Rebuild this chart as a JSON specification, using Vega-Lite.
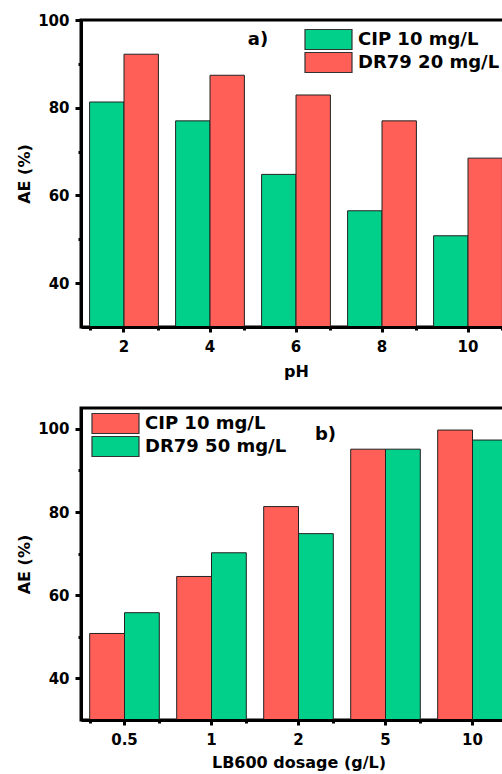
{
  "$schema": "https://vega.github.io/schema/vega-lite/v6.json",
  "background": "white",
  "padding": {"left": 15, "top": 11, "right": 0, "bottom": 0},
  "spacing": 25,
  "datasets": {
    "ph": [
      {"pH": "2", "series": "CIP 10 mg/L", "AE": 81.3},
      {"pH": "2", "series": "DR79 20 mg/L", "AE": 92.2},
      {"pH": "4", "series": "CIP 10 mg/L", "AE": 77.0},
      {"pH": "4", "series": "DR79 20 mg/L", "AE": 87.4},
      {"pH": "6", "series": "CIP 10 mg/L", "AE": 64.8},
      {"pH": "6", "series": "DR79 20 mg/L", "AE": 82.9},
      {"pH": "8", "series": "CIP 10 mg/L", "AE": 56.5},
      {"pH": "8", "series": "DR79 20 mg/L", "AE": 77.0},
      {"pH": "10", "series": "CIP 10 mg/L", "AE": 50.8},
      {"pH": "10", "series": "DR79 20 mg/L", "AE": 68.5}
    ],
    "dose": [
      {"dose": "0.5", "series": "CIP 10 mg/L", "AE": 50.8},
      {"dose": "0.5", "series": "DR79 50 mg/L", "AE": 55.8},
      {"dose": "1", "series": "CIP 10 mg/L", "AE": 64.5},
      {"dose": "1", "series": "DR79 50 mg/L", "AE": 70.2},
      {"dose": "2", "series": "CIP 10 mg/L", "AE": 81.3},
      {"dose": "2", "series": "DR79 50 mg/L", "AE": 74.8},
      {"dose": "5", "series": "CIP 10 mg/L", "AE": 95.1},
      {"dose": "5", "series": "DR79 50 mg/L", "AE": 95.1},
      {"dose": "10", "series": "CIP 10 mg/L", "AE": 99.7},
      {"dose": "10", "series": "DR79 50 mg/L", "AE": 97.3}
    ]
  },
  "config": {
    "font": "DejaVu Sans",
    "view": {"stroke": "black", "strokeWidth": 3},
    "axis": {
      "grid": false,
      "labelFont": "DejaVu Sans", "labelFontWeight": "bold", "labelFontSize": 15, "labelColor": "black",
      "titleFont": "DejaVu Sans", "titleFontWeight": "bold", "titleFontSize": 16, "titleColor": "black",
      "domainColor": "black", "domainWidth": 3, "tickColor": "black", "tickWidth": 3
    },
    "legend": {
      "orient": "none", "title": null, "padding": 0,
      "symbolType": "M-1,-0.43H1V0.43H-1Z", "symbolSize": 2209,
      "clipHeight": 21, "rowPadding": 2,
      "labelFont": "DejaVu Sans", "labelFontWeight": "bold", "labelFontSize": 18, "labelColor": "black",
      "labelOffset": 5, "symbolStrokeColor": "#333", "symbolStrokeWidth": 1.2, "symbolOpacity": 1
    }
  },
  "resolve": {"scale": {"x": "independent", "y": "independent", "color": "independent", "xOffset": "independent"}},
  "vconcat": [
    {
      "width": 430, "height": 307,
      "resolve": {"axis": {"x": "independent"}},
      "layer": [
        {
          "data": {"name": "ph"},
          "mark": {"type": "bar", "stroke": "#222", "strokeWidth": 1, "clip": true},
          "encoding": {
            "x": {"field": "pH", "type": "ordinal", "sort": ["2", "4", "6", "8", "10"],
              "scale": {"paddingInner": 0.2, "paddingOuter": 0.1},
              "axis": {"orient": "bottom", "zindex": 2, "title": "pH", "labelAngle": 0, "tickSize": 5, "labelPadding": 7, "titlePadding": 9}},
            "xOffset": {"field": "series", "sort": ["CIP 10 mg/L", "DR79 20 mg/L"], "scale": {"paddingInner": 0, "paddingOuter": 0}},
            "y": {"field": "AE", "type": "quantitative",
              "scale": {"domain": [30, 100], "nice": false, "zero": false},
              "axis": {"zindex": 2, "title": "AE (%)", "values": [40, 50, 60, 70, 80, 90, 100],
                "labelExpr": "datum.value % 20 === 0 ? datum.label : ''",
                "tickSize": {"condition": {"test": "datum.value % 20 !== 0", "value": 3}, "value": 6},
                "labelPadding": 6, "titlePadding": 5}},
            "color": {"field": "series", "type": "nominal",
              "scale": {"domain": ["CIP 10 mg/L", "DR79 20 mg/L"], "range": ["#00D08A", "#FF5F57"]},
              "legend": {"legendX": 223, "legendY": 9}}
          }
        },
        {
          "data": {"values": [{"pH": "6", "AE": 95.5, "t": "a)"}]},
          "mark": {"type": "text", "font": "DejaVu Sans", "fontWeight": "bold", "fontSize": 18, "color": "black", "align": "center", "baseline": "middle", "dx": -38},
          "encoding": {
            "x": {"field": "pH", "type": "ordinal", "sort": ["2", "4", "6", "8", "10"],
              "axis": {"orient": "bottom", "zindex": 2, "tickBand": "extent", "labels": false, "domain": false, "title": null, "tickSize": 3}},
            "y": {"field": "AE", "type": "quantitative"},
            "text": {"field": "t"}
          }
        }
      ]
    },
    {
      "width": 435, "height": 312,
      "resolve": {"axis": {"x": "independent"}},
      "layer": [
        {
          "data": {"name": "dose"},
          "mark": {"type": "bar", "stroke": "#222", "strokeWidth": 1, "clip": true},
          "encoding": {
            "x": {"field": "dose", "type": "ordinal", "sort": ["0.5", "1", "2", "5", "10"],
              "scale": {"paddingInner": 0.2, "paddingOuter": 0.1},
              "axis": {"orient": "bottom", "zindex": 2, "title": "LB600 dosage (g/L)", "labelAngle": 0, "tickSize": 5, "labelPadding": 7, "titlePadding": 7}},
            "xOffset": {"field": "series", "sort": ["CIP 10 mg/L", "DR79 50 mg/L"], "scale": {"paddingInner": 0, "paddingOuter": 0}},
            "y": {"field": "AE", "type": "quantitative",
              "scale": {"domain": [30, 105], "nice": false, "zero": false},
              "axis": {"zindex": 2, "title": "AE (%)", "values": [40, 50, 60, 70, 80, 90, 100],
                "labelExpr": "datum.value % 20 === 0 ? datum.label : ''",
                "tickSize": {"condition": {"test": "datum.value % 20 !== 0", "value": 3}, "value": 6},
                "labelPadding": 6, "titlePadding": 5}},
            "color": {"field": "series", "type": "nominal",
              "scale": {"domain": ["CIP 10 mg/L", "DR79 50 mg/L"], "range": ["#FF5F57", "#00D08A"]},
              "legend": {"legendX": 10, "legendY": 5}}
          }
        },
        {
          "data": {"values": [{"dose": "2", "AE": 98.6, "t": "b)"}]},
          "mark": {"type": "text", "font": "DejaVu Sans", "fontWeight": "bold", "fontSize": 18, "color": "black", "align": "center", "baseline": "middle", "dx": 27},
          "encoding": {
            "x": {"field": "dose", "type": "ordinal", "sort": ["0.5", "1", "2", "5", "10"],
              "axis": {"orient": "bottom", "zindex": 2, "tickBand": "extent", "labels": false, "domain": false, "title": null, "tickSize": 3}},
            "y": {"field": "AE", "type": "quantitative"},
            "text": {"field": "t"}
          }
        }
      ]
    }
  ]
}
